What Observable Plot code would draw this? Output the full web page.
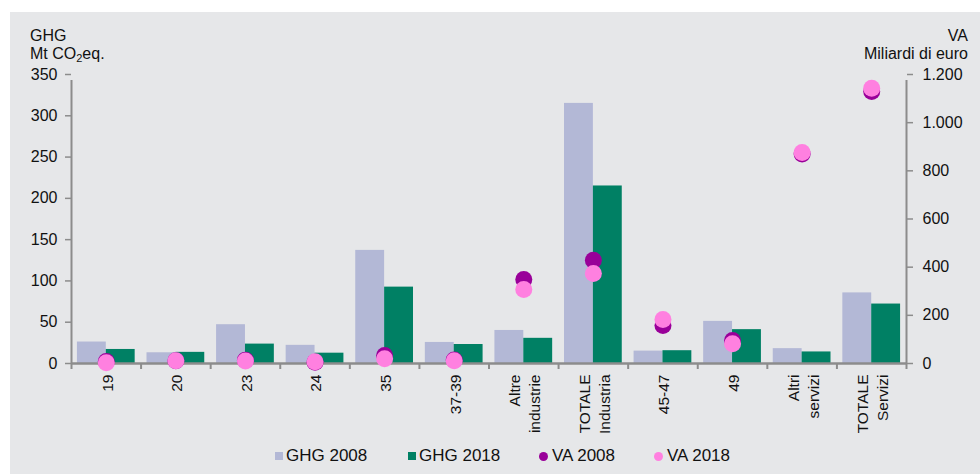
<!DOCTYPE html>
<html>
<head>
<meta charset="utf-8">
<script src="https://cdn.jsdelivr.net/npm/d3@7"></script>
<script src="https://cdn.jsdelivr.net/npm/@observablehq/plot@0.6"></script>
<style>
  html, body { margin: 0; padding: 0; background: #ffffff; }
  body { width: 980px; height: 474px; overflow: hidden; font-family: "Liberation Sans", Arial, sans-serif; }
  #panel { position: absolute; left: 10px; top: 12px; width: 970px; height: 462px; background: #e6e7e9; }
  .ttl { position: absolute; font-size: 16px; line-height: 18px; color: #111; white-space: nowrap; }
  #tl { left: 20px; top: 14.5px; }
  #tr { right: 12px; top: 14.5px; text-align: right; }
  .sub { font-size: 11px; position: relative; top: 3px; line-height: 0; }
  #chart { position: absolute; left: 0; top: 52px; }
  #legend { position: absolute; left: 0; top: 434px; width: 970px; height: 20px; font-size: 17px; color: #111; }
  .item { position: absolute; top: 0; display: flex; align-items: center; height: 20px; white-space: nowrap; }
  .sw { width: 8px; height: 8px; margin-right: 3px; }
  .dt { width: 9px; height: 9px; border-radius: 50%; margin-right: 4px; }
</style>
</head>
<body>
<div id="panel">
  <div id="tl" class="ttl">GHG<br>Mt CO<span class="sub">2</span>eq.</div>
  <div id="tr" class="ttl">VA<br>Miliardi di euro</div>
  <div id="chart"></div>
  <div id="legend"></div>
</div>
<script>
// ---- data ----
const categories = ["19", "20", "23", "24", "35", "37-39", "Altre\nindustrie", "TOTALE\nIndustria", "45-47", "49", "Altri\nservizi", "TOTALE\nServizi"];
const ghg2008 = [26, 13, 47, 22, 137, 25.5, 40, 315, 15, 51, 18, 85.5];
const ghg2018 = [17, 13.5, 23.5, 12.5, 92.5, 23, 30.5, 215, 15.5, 41, 14, 72];
const va2008 = [8, 11, 14, 5, 33, 15, 349, 429, 158, 95, 870, 1129];
const va2018 = [3, 11, 10, 7, 20, 11, 307, 374, 183, 82, 876, 1143];
const ghgTicks = [0, 50, 100, 150, 200, 250, 300, 350];
const vaTicks = [0, 200, 400, 600, 800, 1000, 1200];
const seriesNames = ["GHG 2008", "GHG 2018", "VA 2008", "VA 2018"];

// ---- styles ----
const colLight = "#b3b8d6", colGreen = "#008064", colDark = "#990099", colPink = "#ff80e0";
const axisGray = "#8c8c8c";
const ghgMax = 350, vaMax = 1200;
const k = ghgMax / vaMax; // VA -> GHG scale conversion for right axis

const itFormat = d3.formatLocale({decimal: ",", thousands: ".", grouping: [3], currency: ["", "€"]}).format(",.0f");

const bars = categories.flatMap((c, i) => [
  {i, cat: c, series: "GHG 2008", v: ghg2008[i]},
  {i, cat: c, series: "GHG 2018", v: ghg2018[i]}
]);
const pts = categories.map((c, i) => ({i, cat: c, va08: va2008[i], va18: va2018[i]}));
const pad = 0.085; // outer padding inside each category slot

const plot = Plot.plot({
  width: 970,
  height: 380,
  marginLeft: 61,
  marginRight: 74,
  marginTop: 10,
  marginBottom: 81,
  style: {fontFamily: "'Liberation Sans', Arial, sans-serif", fontSize: "16px", background: "transparent", color: "#111"},
  x: {type: "linear", domain: [0, categories.length], axis: null},
  y: {domain: [0, ghgMax], nice: false, axis: null},
  marks: [
    // bars
    Plot.rectY(bars, {
      x1: d => d.series === "GHG 2008" ? d.i + pad : d.i + 0.5,
      x2: d => d.series === "GHG 2008" ? d.i + 0.5 : d.i + 1 - pad,
      y1: 0, y2: "v",
      fill: d => d.series === "GHG 2008" ? colLight : colGreen
    }),
    // axis lines
    Plot.ruleY([0], {x1: 0, x2: categories.length, stroke: axisGray, strokeWidth: 2.5}),
    Plot.ruleX([0, categories.length], {y1: 0, y2: ghgMax, stroke: axisGray, strokeWidth: 2, insetBottom: -6}),
    // category boundary ticks
    Plot.axisX({ticks: d3.range(categories.length + 1), tickSize: 6, tickFormat: () => "", stroke: axisGray, strokeWidth: 2}),
    // category labels
    Plot.text(categories, {
      x: (d, i) => i + 0.5, y: 0, text: d => d,
      rotate: -90, textAnchor: "end", lineAnchor: "middle", lineHeight: 1.3,
      dy: 11, fontSize: "15.5px", fill: "#111"
    }),
    // left axis
    Plot.axisY({anchor: "left", ticks: ghgTicks, tickSize: 6, tickPadding: 8, stroke: axisGray, strokeWidth: 1.5, fill: "#111", label: null}),
    // right axis (VA converted onto GHG scale)
    Plot.axisY({anchor: "right", ticks: vaTicks.map(v => v * k), tickSize: 6, tickPadding: 10,
      tickFormat: v => itFormat(Math.round(v / k)), stroke: axisGray, strokeWidth: 1.5, fill: "#111", label: null}),
    // VA dots
    Plot.dot(pts, {x: d => d.i + 0.5, y: d => d.va08 * k, r: 8.5, fill: colDark}),
    Plot.dot(pts, {x: d => d.i + 0.5, y: d => d.va18 * k, r: 8.5, fill: colPink})
  ]
});
document.getElementById("chart").appendChild(plot);

// legend
const legend = document.getElementById("legend");
const legendColors = [colLight, colGreen, colDark, colPink];
const legendLeft = [265, 398, 529, 644];
seriesNames.forEach((name, j) => {
  const it = document.createElement("div");
  it.className = "item";
  it.style.left = legendLeft[j] + "px";
  const m = document.createElement("span");
  m.className = j < 2 ? "sw" : "dt";
  m.style.background = legendColors[j];
  it.appendChild(m);
  const t = document.createElement("span");
  t.textContent = name;
  it.appendChild(t);
  legend.appendChild(it);
});
</script>
</body>
</html>
